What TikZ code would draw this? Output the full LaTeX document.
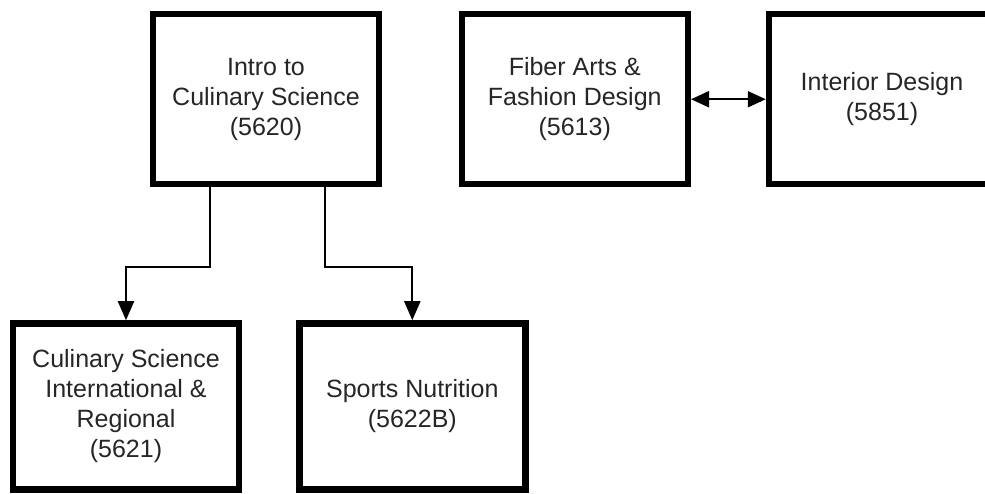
\documentclass[tikz,border=0pt]{standalone}
\usepackage{fontspec}
\setmainfont{Liberation Sans}
\usetikzlibrary{arrows.meta}
\begin{document}
\begin{tikzpicture}[x=1pt,y=1pt,
  course/.style={draw=black, line width=6.5pt, minimum width=226pt, minimum height=170pt,
    inner sep=0pt, align=center, font=\fontsize{25}{30}\selectfont, text=black!85},
  lowcourse/.style={course, minimum height=166pt},
  link/.style={draw=black, line width=2pt, -{Triangle[length=19pt,width=16pt]}},
  duallink/.style={draw=black, line width=2pt, {Triangle[length=18pt,width=16pt]}-{Triangle[length=18pt,width=16pt]}}
]
\useasboundingbox (0,0) rectangle (985,493);
\clip (0,0) rectangle (985,493);
\fill[white] (0,0) rectangle (985,493);
\node[course] (intro) at (266,393.75) {Intro to\\Culinary Science\\(5620)};
\node[course] (fiber) at (574.75,393.75) {Fiber Arts \&\\Fashion Design\\(5613)};
\node[course] (interior) at (882,393.75) {Interior Design\\(5851)};
\node[lowcourse] (intl) at (126,86.5) {Culinary Science\\International \&\\Regional\\(5621)};
\node[lowcourse] (sports) at (412.3,86.5) {Sports Nutrition\\(5622B)};
\draw[link] ([xshift=-56pt]intro.south) -- ++(0,-80) -| (intl.north);
\draw[link] ([xshift=59pt]intro.south) -- ++(0,-80) -| (sports.north);
\draw[duallink] (fiber.east) -- (interior.west);
\end{tikzpicture}
\end{document}
